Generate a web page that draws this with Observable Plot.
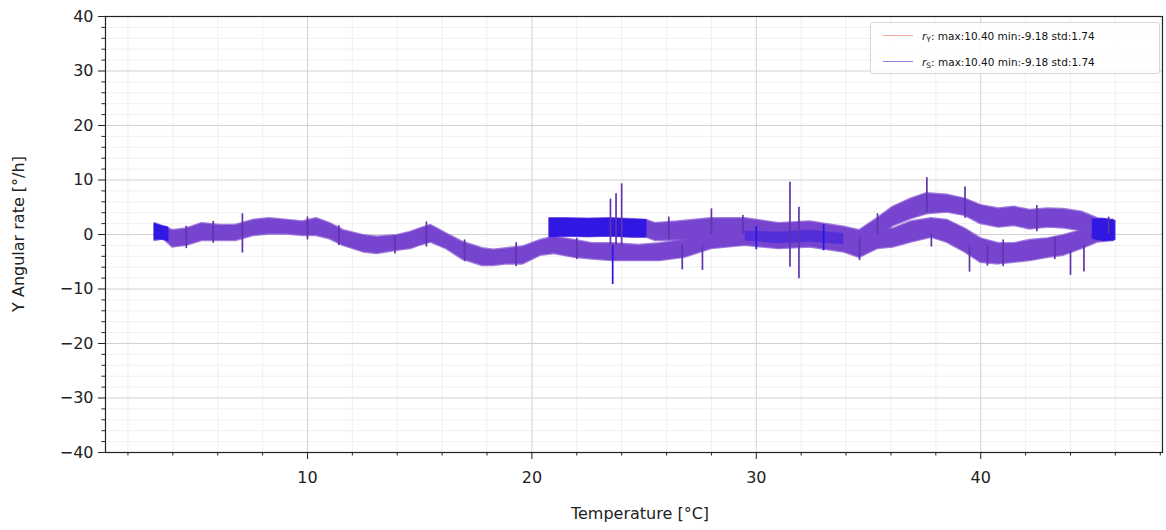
<!DOCTYPE html>
<html>
<head>
<meta charset="utf-8">
<script src="https://cdn.jsdelivr.net/npm/d3@7"></script>
<script src="https://cdn.jsdelivr.net/npm/@observablehq/plot@0.6"></script>
<style>
  body { margin: 0; background: #fff; font-family: "DejaVu Sans", sans-serif; }
  #wrap { position: relative; width: 1166px; height: 530px; overflow: hidden; }
  #legend { position: absolute; left: 870px; top: 22px; width: 290px; height: 52px;
            border: 1px solid #d6d6d6; border-radius: 3px; background: rgba(255,255,255,0.85);
            font-size: 10.5px; color: #111; box-sizing: border-box; }
  .row { position: absolute; left: 0; height: 14px; width: 100%; }
  .sw { position: absolute; left: 12px; top: 6px; width: 30px; height: 1.3px; }
  .lt { position: absolute; left: 51px; top: 0px; white-space: nowrap; line-height: 14px; }
  .lt sub { font-size: 7.5px; vertical-align: -2px; }
  #xlab { position: absolute; left: 640px; top: 513px; transform: translate(-50%, -50%);
          font-size: 16px; color: #222; white-space: nowrap; }
  #ylab { position: absolute; left: 18px; top: 234px; transform: translate(-50%, -50%) rotate(-90deg);
          font-size: 16px; color: #222; white-space: nowrap; }
</style>
</head>
<body>
<div id="wrap">
  <div id="chart"></div>
  <div id="legend"></div>
  <div id="xlab"></div>
  <div id="ylab"></div>
</div>
<script>
// ---------------- data ----------------
const xLabel = "Temperature [°C]";
const yLabel = "Y Angular rate [°/h]";
const seriesNames = ["Y", "S"];
const seriesStats = ["max:10.40 min:-9.18 std:1.74", "max:10.40 min:-9.18 std:1.74"];

const xMajorTicks = [10, 20, 30, 40];
const xMinorTicks = [2, 4, 6, 8, 12, 14, 16, 18, 22, 24, 26, 28, 32, 34, 36, 38, 42, 44, 46, 48];
const yMajorTicks = [-40, -30, -20, -10, 0, 10, 20, 30, 40];
const yMinorTicks = [-38,-36,-34,-32,-28,-26,-24,-22,-18,-16,-14,-12,-8,-6,-4,-2,2,4,6,8,12,14,16,18,22,24,26,28,32,34,36,38];

// path 1 (whole sweep 3 -> 46 °C): temperature, lower and upper edge of the noisy band
const band1T  = [3.2,3.6,4.0,4.6,5.3,6.1,6.8,7.6,8.3,9.1,9.8,10.4,11.0,11.6,12.5,13.1,14.0,14.6,15.0,15.5,16.2,16.9,17.8,18.3,18.9,19.6,20.4,21.0,21.9,22.7,23.6,24.8,25.7,26.8,28.0,29.5,31.0,32.4,33.9,34.6,35.4,36.1,36.9,37.8,38.5,39.3,40.0,40.8,41.5,42.2,43.0,43.7,44.5,45.2,45.9];
const band1Lo = [-1.1,-0.8,-2.3,-2.0,-1.1,-1.1,-1.1,-0.2,0.1,0.1,-0.2,-0.2,-0.8,-2.0,-3.2,-3.5,-2.9,-2.6,-2.0,-1.4,-2.6,-4.5,-5.7,-5.7,-5.4,-5.4,-3.8,-3.5,-4.2,-4.5,-4.8,-4.8,-4.8,-4.2,-2.6,-2.0,-2.6,-2.3,-3.2,-4.2,-2.6,-2.3,-1.4,-0.5,-1.4,-3.2,-5.1,-5.4,-5.1,-4.8,-4.2,-3.8,-2.6,-1.4,-1.1];
const band1Hi = [2.0,1.35,0.7,1.0,2.0,1.65,1.65,2.6,2.9,2.6,2.3,2.9,2.0,0.7,-0.2,-0.5,-0.2,0.4,1.0,1.65,0.1,-1.4,-2.6,-2.9,-2.6,-2.3,-1.1,-0.5,-1.1,-1.7,-1.7,-2.0,-1.7,-1.1,0.3,0.8,0.5,0.8,0.0,-0.8,0.5,1.0,2.3,2.9,2.6,1.0,-0.8,-1.7,-1.7,-1.1,-0.8,-0.2,0.7,2.0,2.6];

// path 2 (second sweep 21 -> 46 °C)
const band2T  = [20.8,21.5,22.5,23.5,24.5,25.1,25.5,26.5,28.0,29.5,31.0,32.4,33.9,34.6,35.4,36.1,36.9,37.6,38.5,39.3,40.0,40.8,41.5,42.2,43.0,43.7,44.5,45.2,45.9];
const band2Lo = [-0.5,-0.3,-0.4,-0.3,-0.5,-0.5,-1.1,-1.0,-0.8,-0.8,-1.5,-1.2,-1.7,-1.5,-0.5,1.6,2.9,3.8,4.1,3.5,2.0,1.35,1.65,1.0,1.35,1.2,0.7,-0.5,-1.1];
const band2Hi = [2.9,2.9,2.8,2.9,2.7,2.6,2.0,2.3,2.9,2.9,2.0,2.3,1.35,0.7,2.9,5.0,6.5,7.5,7.2,6.5,5.3,4.7,5.0,4.4,4.7,4.6,4.1,2.9,2.6];

// parts where the r_S trace shows through on its own (dark blue): run id, temperature, edges
const blueRun = ["a","a","a","b","b","b","b","b","b","d","d","d"];
const blueT   = [3.2,3.5,3.8, 20.8,21.5,22.5,23.5,24.5,25.1, 45.0,45.5,46.0];
const blueLo  = [-0.9,-0.9,-1.2, -0.5,-0.3,-0.4,-0.3,-0.5,-0.5, -0.8,-1.2,-1.0];
const blueHi  = [1.9,1.5,1.3, 2.9,2.9,2.8,2.9,2.7,2.6, 2.7,2.8,2.5];
// fainter blue inside the merged band (29 -> 34 °C)
const mixT  = [29.5,31.0,32.4,33.9];
const mixLo = [-1.2,-1.7,-1.4,-1.9];
const mixHi = [0.6,0.4,0.8,0.2];

// spikes: temperature, bottom, top, series
const spikeT  = [7.1,15.3,23.5,23.75,24.0,23.6,26.1,26.7,27.6,28.0,29.4,31.5,31.9,35.4,37.6,37.8,39.3,39.5,40.3,44.0,44.6,45.7,
                 4.6,5.8,10.0,11.4,13.9,17.0,19.3,22.0,30.0,33.0,34.6,41.0,42.5,43.3];
const spikeLo = [-3.4,-2.3,-2.0,-2.0,-2.0,-9.18,-1.0,-6.5,-6.6,0.0,0.0,-6.0,-8.1,0.0,4.0,-2.3,3.0,-6.9,-5.8,-7.5,-6.9,0.0,
                 -2.6,-1.6,-1.0,-2.0,-3.6,-5.0,-5.9,-4.6,-2.8,-3.0,-4.8,-5.9,0.5,-4.6];
const spikeHi = [3.8,2.3,6.5,7.5,9.3,-2.0,3.2,-2.0,-2.0,4.7,3.5,9.6,5.0,3.8,10.4,0.0,8.7,-2.0,-2.0,-3.0,-2.0,3.2,
                 1.5,2.4,3.2,1.6,-0.3,-1.0,-1.5,-0.7,1.5,1.8,-0.5,-1.0,5.3,-0.5];
const spikeS  = ["Y","Y","Y","Y","Y","S","Y","Y","Y","Y","Y","Y","Y","Y","Y","Y","Y","Y","Y","Y","Y","Y",
                 "Y","Y","Y","Y","Y","Y","Y","Y","S","S","Y","Y","Y","Y"];

// ---------------- build ----------------
const band1 = band1T.map((t, i) => ({T: t, lo: band1Lo[i], hi: band1Hi[i]}));
const band2 = band2T.map((t, i) => ({T: t, lo: band2Lo[i], hi: band2Hi[i]}));
const blue  = blueT.map((t, i) => ({T: t, lo: blueLo[i], hi: blueHi[i], run: blueRun[i]}));
const mix   = mixT.map((t, i) => ({T: t, lo: mixLo[i], hi: mixHi[i]}));
const spikes = spikeT.map((t, i) => ({T: t, lo: spikeLo[i], hi: spikeHi[i], s: spikeS[i]}));

const PURPLE = "#7744cf";
const BLUE = "#2a14e4";
const SPIKE = "#5f34ad";

const chart = Plot.plot({
  width: 1166,
  height: 530,
  marginLeft: 105,
  marginRight: 4,
  marginTop: 16,
  marginBottom: 78,
  style: {fontFamily: "DejaVu Sans, sans-serif", fontSize: "16px", color: "#222", background: "white"},
  x: {domain: [1.0, 48.1]},
  y: {domain: [-40, 40]},
  marks: [
    Plot.gridX(xMinorTicks, {stroke: "#ececec", strokeOpacity: 1, strokeWidth: 0.8}),
    Plot.gridY(yMinorTicks, {stroke: "#ececec", strokeOpacity: 1, strokeWidth: 0.8}),
    Plot.gridX(xMajorTicks, {stroke: "#d2d2d2", strokeOpacity: 1, strokeWidth: 1}),
    Plot.gridY(yMajorTicks, {stroke: "#d2d2d2", strokeOpacity: 1, strokeWidth: 1}),
    Plot.areaY(band1, {x: "T", y1: "lo", y2: "hi", fill: PURPLE, stroke: PURPLE, strokeWidth: 2.4, strokeOpacity: 0.7}),
    Plot.areaY(band2, {x: "T", y1: "lo", y2: "hi", fill: PURPLE, stroke: PURPLE, strokeWidth: 2.4, strokeOpacity: 0.7}),
    Plot.areaY(mix, {x: "T", y1: "lo", y2: "hi", fill: BLUE, fillOpacity: 0.45}),
    Plot.areaY(blue, {x: "T", y1: "lo", y2: "hi", z: "run", fill: BLUE, stroke: BLUE, strokeWidth: 1.5, fillOpacity: 0.92, strokeOpacity: 0.7}),
    Plot.ruleX(spikes, {x: "T", y1: "lo", y2: "hi", stroke: d => d.s === "S" ? BLUE : SPIKE, strokeWidth: 1.7}),
    Plot.axisX(xMinorTicks, {tickSize: 3.5, tickFormat: () => "", label: null}),
    Plot.axisX(xMajorTicks, {tickSize: 7, tickPadding: 12, fontSize: 16, label: null}),
    Plot.axisY(yMinorTicks, {tickSize: 3.5, tickFormat: () => "", label: null}),
    Plot.axisY(yMajorTicks, {tickSize: 7, tickPadding: 5, fontSize: 16, label: null}),
    Plot.frame({stroke: "#222", strokeWidth: 1.2})
  ]
});
document.getElementById("chart").appendChild(chart);

document.getElementById("xlab").textContent = xLabel;
document.getElementById("ylab").textContent = yLabel;

const legendColors = ["#f0a59c", "#8b86e6"];
const legend = document.getElementById("legend");
seriesNames.forEach((name, i) => {
  const row = document.createElement("div");
  row.className = "row";
  row.style.top = (6 + i * 26) + "px";
  const sw = document.createElement("span");
  sw.className = "sw";
  sw.style.background = legendColors[i];
  const t = document.createElement("span");
  t.className = "lt";
  t.innerHTML = "<i>r</i><sub>" + name + "</sub>: " + seriesStats[i];
  row.appendChild(sw);
  row.appendChild(t);
  legend.appendChild(row);
});
</script>
</body>
</html>
